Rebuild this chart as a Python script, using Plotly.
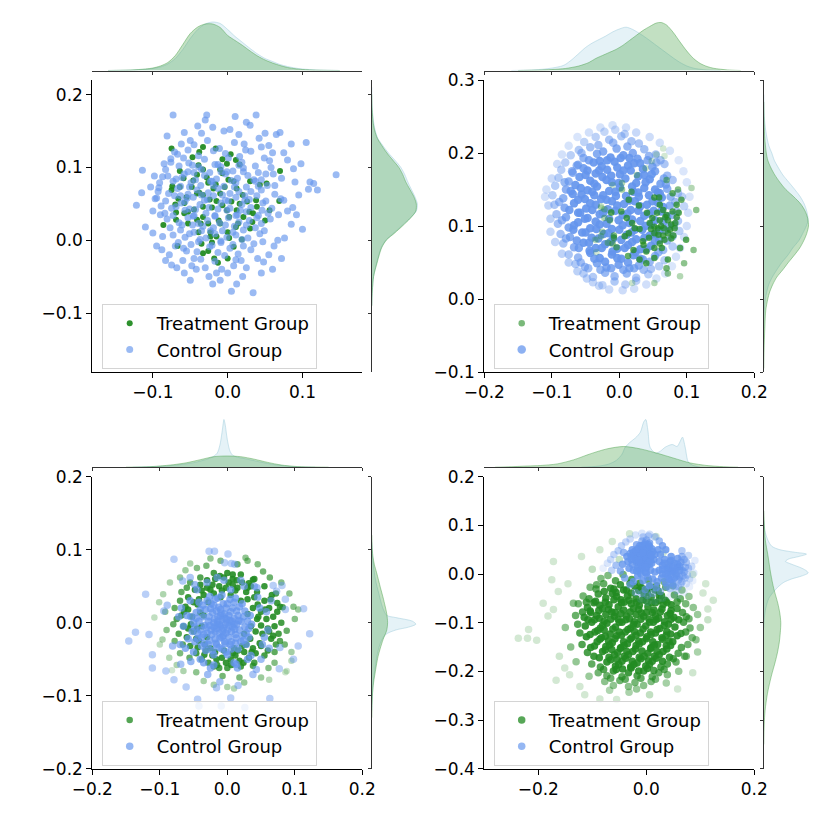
import numpy as np
import plotly.graph_objects as go

# scatter points, (x, y) in thousandths
P1_TREAT = [(-75,126),(-33,128),(-16,126),(4,118),(-47,114),(-38,121),(-7,111),(11,110),(16,104),(-1,105),
    (-39,103),(-33,97),(-10,97),(-7,92),(70,95),(-64,95),(-74,74),(-64,73),(-75,69),(-59,85),(-46,82),(-26,79),
    (-16,77),(1,83),(8,81),(30,81),(43,76),(52,78),(-38,65),(-33,62),(-55,59),(-66,57),(-70,49),(-58,51),(-24,56),
    (-15,54),(-7,48),(5,53),(16,50),(26,53),(38,55),(69,54),(39,46),(56,41),(-45,42),(-33,46),(-21,45),(-69,38),
    (-58,37),(-41,28),(-69,28),(-33,32),(-12,27),(2,32),(12,41),(21,32),(29,39),(34,37),(50,27),(33,25),(-86,21),
    (-53,23),(-36,23),(-10,23),(11,18),(30,16),(-39,11),(-23,11),(0,11),(-15,5),(-23,5),(2,3),(19,1),(-35,-5),
    (-67,-8),(-21,-3),(8,-9),(-26,-15),(-33,-18),(-18,-25),(-13,-31),(0,-25),(-41,90),(-28,86),(-19,71),(-4,73),
    (12,71),(-48,73),(-41,64),(-53,39),(-1,41),(20,62),(-10,64),(-26,23),(14,23)]

P1_CTRL = [(-122,48),(-114,96),(-110,18),(-103,73),(-95,58),(-90,35),(-88,-13),(-87,5),(-85,105),(-81,143),
    (-78,-20),(-75,-34),(-73,172),(-70,-8),(-68,-38),(-62,132),(-60,-28),(-58,-45),(-55,-15),(-50,137),(-48,-35),
    (-45,-25),(-42,-40),(-40,157),(-35,147),(-30,-38),(-28,172),(-25,-50),(-20,155),(-15,-45),(-10,-55),(-8,-40),
    (-5,150),(0,-45),(3,152),(8,-35),(12,-60),(15,145),(18,-28),(22,132),(25,-38),(30,158),(34,-72),(38,172),
    (40,-25),(42,140),(48,-30),(50,147),(55,-20),(58,100),(60,120),(62,-8),(65,145),(67,0),(70,148),(72,-25),
    (75,120),(76,3),(80,110),(85,132),(87,45),(90,80),(95,62),(98,105),(105,134),(108,70),(110,80),(115,78),
    (120,69),(145,90),(100,15),(85,22),(80,40),(75,55),(68,35),(63,75),(72,85),(88,98),(92,35),(-100,40),(-98,88),
    (-92,72),(-80,88),(-76,112),(-67,118),(-58,148),(-30,165),(10,170),(25,162),(45,128),(55,130),(-115,65),
    (-100,10),(-95,-8),(-83,-28),(-50,-55),(-20,-60),(5,-70),(20,-50),(45,-45),(60,-40),
    (-45,131),(-27,137),(-11,126),(9,134),(24,124),
    (-71,121),(-53,124),(-39,116),(-19,123),(-3,119),(16,115),(31,122),(49,113),
    (-76,107),(-59,113),(-47,103),(-31,111),(-13,104),(1,113),(19,107),(37,102),(56,109),
    (-83,97),(-65,102),(-53,94),(-39,101),(-24,93),(-9,101),(7,95),(21,99),(41,93),(51,91),
    (-87,87),(-69,84),(-58,91),(-43,83),(-31,89),(-15,84),(-3,91),(13,85),(27,89),(45,83),(61,91),
    (-91,79),(-73,81),(-63,74),(-49,79),(-36,75),(-21,81),(-5,74),(11,79),(25,73),(37,81),(53,75),
    (-93,67),(-79,64),(-67,71),(-53,63),(-41,69),(-26,65),(-13,71),(3,64),(15,67),(31,67),(45,69),(63,63),
    (-97,57),(-83,54),(-71,61),(-57,53),(-46,59),(-31,55),(-19,61),(-3,55),(11,59),(23,55),(39,61),(51,54),(71,57),
    (-89,47),(-75,44),(-62,51),(-51,43),(-37,49),(-25,45),(-9,51),(3,44),(19,49),(31,45),(47,51),(59,44),
    (-84,37),(-73,34),(-57,41),(-46,33),(-29,37),(-17,34),(-1,41),(13,35),(25,39),(41,34),(54,37),
    (-81,29),(-65,24),(-53,31),(-39,23),(-27,27),(-11,24),(1,31),(15,25),(29,27),(45,23),(57,29),
    (-77,17),(-63,14),(-47,21),(-35,13),(-19,17),(-7,13),(9,19),(21,14),(37,17),(49,13),
    (-73,7),(-57,4),(-45,11),(-29,3),(-17,9),(-1,4),(11,7),(27,3),(43,9),
    (-66,-3),(-49,-6),(-37,1),(-21,-7),(-9,-1),(7,-6),(19,1),(35,-5),(47,-2),
    (-59,-11),(-41,-16),(-24,-9),(-13,-17),(3,-11),(14,-19),(31,-13),
    (-36,-26),(-17,-29),(-4,-21),(11,-27),
    (-52,106),(-35,97),(-17,104),(-1,94),(15,103),
    (-61,86),(-45,93),(-23,81),(-9,94),(5,82),(21,94),(35,83),
    (-63,61),(-51,73),(-35,62),(-19,75),(-7,62),(9,73),(23,61),(41,74),
    (-69,46),(-54,58),(-43,42),(-27,56),(-13,43),(1,54),(17,41),(29,56),(46,41),
    (-61,21),(-45,34),(-33,19),(-17,33),(-3,21),(11,34),(25,21),(39,31),
    (-51,9),(-39,-2),(-23,13),(-9,-3),(7,11),(21,-8)]

P2_TREAT = [(52,139),(59,139),(14,136),(29,128),(41,118),(56,118),(65,122),(70,115),(79,120),(85,112),(72,108),
    (60,108),(45,104),(30,96),(19,104),(11,111),(3,120),(-12,118),(-27,125),(-22,111),(-14,108),(-25,92),(14,90),
    (23,97),(52,99),(57,97),(52,90),(65,87),(72,90),(80,87),(67,81),(8,86),(-8,87),(-17,77),(-4,71),(-34,81),
    (35,79),(21,67),(40,65),(52,70),(36,74),(72,54),(52,56),(90,70),(99,81),(85,129),(92,136),(87,150),(107,152),
    (114,122),(110,67),(96,49),(70,42),(72,35),(90,31),(52,22),(19,22),(40,49),(55,198),(65,206),(48,189),(67,196),
    (70,163),(79,145),(39,179),(26,170),(4,150),(18,147),(-27,86),(30,54),(13,59),(60,76),(82,97),(49,111),(60,129),
    (77,102),(66,97),(-27,127),(-22,123),(-12,119),(-36,81),(-34,64),(-8,84),(-10,76),(4,159),(-10,156),
    (62,100),(75,95),(68,112),(58,88),(47,96),(83,104),(77,83),(63,70),(44,84),(88,118)]

P2_CTRL = [(-22,229),(-6,232),(8,226),(-35,222),(-15,218),(3,223),(18,216),(-52,215),(-31,211),(-9,214),(12,209),
    (29,213),(-60,204),(-43,208),(-24,202),(-4,206),(20,200),(37,205),(54,198),(-72,197),(-53,193),(-33,199),
    (-13,194),(6,197),(27,192),(44,196),(61,190),
    (-80,187),(-61,184),(-45,190),(-26,182),(-7,188),(13,183),(31,186),(49,181),(67,185),
    (-86,177),(-69,173),(-53,179),(-35,172),(-18,177),(1,171),(17,176),(37,170),(53,175),(71,169),
    (-90,166),(-75,161),(-59,167),(-43,162),(-25,167),(-11,160),(9,165),(25,159),(45,164),(61,158),(79,163),
    (-95,155),(-79,150),(-65,156),(-47,149),(-33,154),(-15,148),(1,153),(21,147),(37,152),(57,146),(71,151),(87,145),
    (-99,142),(-83,138),(-69,144),(-51,137),(-37,142),(-19,136),(-5,141),(15,135),(29,140),(49,134),(63,139),(83,133),
    (93,140),(-96,129),(-81,125),(-67,131),(-49,124),(-35,129),(-17,123),(-3,128),(17,122),(31,127),(51,121),
    (65,126),(85,120),(96,127),
    (-93,116),(-79,112),(-61,118),(-47,111),(-29,116),(-15,110),(5,115),(19,109),(37,114),(53,108),(71,113),(87,107),
    (-91,103),(-75,98),(-61,105),(-43,97),(-29,102),(-11,96),(5,101),(23,95),(39,100),(59,94),(73,99),(89,93),
    (-87,89),(-73,85),(-55,91),(-41,84),(-23,89),(-9,83),(11,88),(25,82),(45,87),(59,81),(79,86),
    (-83,76),(-67,71),(-53,77),(-35,70),(-21,75),(-3,69),(13,74),(31,68),(47,73),(65,67),(79,72),
    (-75,61),(-61,57),(-43,63),(-29,56),(-11,61),(3,55),(21,60),(35,54),(53,59),(67,53),
    (-65,48),(-51,44),(-33,49),(-19,43),(-1,47),(15,42),(29,46),(47,41),(59,45),
    (-53,35),(-39,30),(-21,36),(-7,31),(11,35),(25,29),(43,34),
    (-39,23),(-25,19),(-7,24),(9,20),(25,25),
    (-56,200),(-38,187),(-18,190),(2,193),(22,186),(42,190),
    (-70,175),(-50,170),(-30,176),(-12,169),(6,176),(28,168),(48,171),(66,165),
    (-72,148),(-56,143),(-40,147),(-24,142),(-6,147),(10,141),(28,146),(44,142),(60,145),(76,140),
    (-74,122),(-58,118),(-40,122),(-24,118),(-6,121),(12,117),(28,121),(44,117),(62,120),(78,115),
    (-68,95),(-50,91),(-34,96),(-16,90),(0,95),(18,91),(34,95),(52,89),(68,94),
    (-60,70),(-44,66),(-26,70),(-10,65),(8,70),(24,64),(40,68),(58,64),
    (-46,42),(-28,40),(-12,42),(6,40),(22,42),(36,40),
    (-63,183),(-47,176),(-29,189),(-3,180),(15,193),(35,178),(55,187),(-81,160),(-57,152),(-37,158),(-19,163),
    (-1,159),(19,154),(39,160),(53,150),(69,157),(-89,133),(-61,136),(-43,131),(-27,137),(-11,134),(7,130),
    (23,134),(41,129),(57,132),(75,128),(-85,108),(-67,101),(-51,110),(-35,106),(-19,103),(-1,108),(15,104),
    (31,107),(47,102),(65,106),(81,101),(-79,83),(-63,80),(-45,77),(-31,83),(-13,78),(3,81),(19,78),(37,84),
    (53,79),(71,80),(-57,50),(-37,55),(-21,51),(-3,56),(13,50),(31,55),(45,51),
    (-108,150),(-105,128),(-102,110),(-100,165),(-92,185),(-85,198),(-75,210),(-62,222),(-45,228),(-28,235),
    (-10,238),(10,235),(25,228),(45,222),(60,214),(75,203),(88,190),(95,175),(100,160),(104,140),(102,118),
    (100,100),(96,85),(90,70),(84,58),(78,45),(68,35),(55,28),(40,20),(22,14),(5,12),(-15,13),(-30,18),(-48,28),
    (-62,38),(-75,50),(-85,62),(-95,78),(-102,92),(-110,140)]

P3_TREAT = [(-68,10),(-65,-5),(-62,22),(-60,-20),(-58,35),(-55,-32),(-52,8),(-50,-12),(-48,45),(-46,-42),(-44,25),
    (-42,-25),(-40,52),(-38,-50),(-35,38),(-32,-38),(-30,58),(-28,-55),(-25,45),(-22,-45),(-18,60),(-15,-58),
    (-12,50),(-8,-48),(-5,62),(-2,-55),(2,55),(5,-50),(8,60),(12,-45),(15,48),(18,-52),(22,55),(25,-40),(28,42),
    (32,-48),(35,50),(38,-35),(40,35),(42,-42),(45,25),(48,-28),(50,15),(52,-15),(55,30),(58,5),(60,-8),(62,20),
    (65,-22),(68,8),(70,-5),(72,-30),(74,15),(76,-15),(66,38),(60,-38),(-72,-15),(-75,5),(-70,30),(-66,-30),
    (-60,48),(-56,-48),(-20,-60),(0,-62),(20,-60),(40,-55),(55,-45),(70,-40),(78,-25),(80,0),(78,22),(72,40),
    (55,50),(40,60),(20,66),(0,68),(-20,68),(-40,62),(-55,55),(-68,42),(-78,20),(-80,-2),(-78,-25),(-70,-42),
    (-35,10),(-30,-20),(25,-15),(30,12),(-10,35),(10,-35),(20,30),(-25,-35),(35,-5),(-38,-5),(5,38),(-5,-38),
    (28,-30),(-28,28),
    (-64,15),(-58,-8),(-50,28),(-46,-22),(-38,44),(-34,-44),(-22,52),(-16,-50),(-2,48),(6,-58),(14,58),(24,-55),
    (30,48),(36,-40),(44,42),(50,-32),(56,18),(62,-12),(64,32),(68,-18),(46,8),(50,-4),(-54,-2),(-58,18),(32,54),
    (8,52),(-12,-62),(16,-38),(-44,-34),(-30,48),
    (-45,-8),(-40,14),(-33,-30),(-20,40),(8,-42),(22,-32),(38,20),(42,-12),(30,32),(-18,-40),(44,5),(-42,32),
    (12,44),(-8,44),(34,-22),
    (-55,81),(-31,78),(27,89),(53,70),(-95,39),(-101,28),(-108,7),(-96,-23),(-86,-48),(-65,-66),(-46,-68),
    (-7,-73),(18,-75),(38,-59),(61,-62),(86,-68),(88,-66),(98,22),(105,18),(88,-11),(82,21),(74,27),(63,62),
    (38,59),(-11,64),(8,66),(-85,55),(-90,-10),(-75,-58),(-20,-85),(0,-88),(25,-82),(50,-75),(70,-55),(95,-40),
    (100,5),(92,40),(80,55),(30,85),(-10,85),(-45,75),(-70,62),(-92,15),(-100,-30),(-82,-65),(-35,-80),(10,-90),
    (62,-78),(85,-30),(95,-52),(-62,72),(15,80),(-25,88),(45,80)]

P3_CTRL = [(-10,-5),(-3,-2),(-16,-8),(-8,4),(-12,-14),(0,-10),(-20,0),(-6,-18),(4,3),(-24,-10),(-14,8),(2,-20),
    (8,-6),(-28,2),(-18,-22),(-4,12),(10,6),(-30,-14),(-22,14),(6,-26),(14,-2),(-34,-4),(-10,18),(12,-16),
    (-26,-24),(-2,20),(16,10),(-36,8),(-16,-30),(18,-10),(-32,18),(4,-30),(20,2),(-40,-10),(-6,26),(22,-18),
    (-38,-20),(8,20),(-20,24),(-28,-30),(24,8),(-12,-34),(-42,2),(12,-28),(0,26),(26,-6),(-44,-14),(-24,26),
    (14,16),(-34,-28),(-8,-36),(28,-14),(-46,6),(18,22),(-36,24),(6,-36),(-30,30),(30,2),(-48,-6),(-18,32),
    (20,-26),(-40,18),(10,28),(-44,-22),(-2,-40),(32,-8),(-22,-38),(26,16),(-50,0),(-14,34),(24,-24),(-38,-32),
    (4,32),(-46,14),(16,-36),(34,10),(-26,36),(-52,-12),(32,-20),(-32,-38),(0,-44),(-8,38),(36,-2),(-42,28),
    (22,26),(-54,8),(-20,-44),(12,34),(28,-30),(-48,-26),
    (-12,-2),(-6,-8),(-14,2),(-4,6),(-18,-12),(0,0),(-10,10),(-2,-14),(-20,-6),(-8,-20),(6,-12),(-16,16),(2,10),
    (-26,-4),(-4,-26),(10,-2),
    (-7,-11),(-15,-3),(-1,5),(-19,5),(-11,-21),(3,-4),(-23,-16),(-9,13),(7,2),(-27,8),(-3,-29),(11,-9),(-17,-28),
    (-31,-7),(5,15),(-13,21),(13,-21),(-25,19),(-35,-16),(17,3),
    (-60,10),(-58,-22),(-55,30),(-50,-40),(-45,45),(-40,-50),(-30,55),(-20,-58),(-5,58),(10,-55),(25,50),
    (35,-45),(45,35),(52,-30),(58,15),(60,-10),(50,-50),(40,50),(-65,-5),(-68,20),(-62,-35),(-48,52),(-15,62),
    (20,58),(48,20),(55,-20),(30,-50),(-35,-55),(5,45),(-70,-30),(-72,8),(65,30),(62,-35),(-25,-62),(15,-62),
    (44,48),
    (-146,-25),(-136,-13),(-121,39),(-111,-62),(-111,-44),(-116,-16),(-91,-66),(-79,-78),(-79,87),(-61,-88),
    (-44,-105),(-27,98),(-19,98),(1,94),(-4,82),(6,81),(11,80),(81,51),(86,32),(113,19),(122,-15),(105,-32),
    (98,-50),(77,-63),(63,-104),(5,-103),(16,-86),(-11,-81),(-16,-89),(-29,-71),(38,-71),(43,-64),(13,-57),
    (-54,-53),(-69,-57),(-81,-32),(-94,16),(-89,24),(-66,57),(-55,62),(68,51),(73,43),(86,18),(78,-34),
    (-9,-114),(26,-116),(-42,-114)]

P4_TREAT = [(-237,-132),(-220,-132),(-218,-114),(-203,-136),(-191,-60),(-182,-86),(-172,-73),(-175,-12),
    (-172,26),(-163,-36),(-161,-169),(-167,-218),(-151,-193),(-142,-207),(-120,36),(-86,50),(-63,67),(-31,83),
    (18,77),(31,43),(86,-1),(105,-39),(124,-54),(114,-72),(114,-94),(92,-135),(74,-169),(86,-203),(58,-236),
    (37,-224),(6,-248),(-32,-243),(-68,-239),(-86,-257),(-114,-248),(-123,-231),(-106,-210),(-55,-258),
    (-18,-236),(-150,-110),(-140,-150),(-135,-60),(-145,-20),(100,-110),(95,-160),(110,-20),(60,-200),(-100,10),
    (-130,-180),(40,20),(-50,30),
    (-84,-9),(-71,-3),(-57,-14),(-43,-1),(-27,-11),(-12,-19),(4,-13),(19,-24),(33,-16),
    (-104,-27),(-93,-31),(-79,-20),(-66,-29),(-48,-22),(-37,-33),(-21,-25),(-9,-28),(7,-26),(22,-35),(36,-27),
    (49,-24),(66,-33),
    (-117,-45),(-106,-51),(-89,-41),(-75,-49),(-63,-40),(-47,-53),(-35,-45),(-19,-51),(-4,-42),(9,-47),(24,-44),
    (35,-54),(52,-43),(63,-51),(79,-46),
    (-126,-61),(-109,-69),(-97,-59),(-81,-71),(-69,-63),(-52,-67),(-41,-58),(-24,-71),(-13,-64),(3,-67),(17,-59),
    (29,-72),(46,-63),(57,-71),(73,-61),(87,-69),
    (-131,-85),(-115,-89),(-103,-79),(-87,-91),(-75,-83),(-59,-87),(-47,-81),(-31,-92),(-19,-83),(-5,-87),(11,-79),
    (23,-91),(39,-85),(51,-89),(67,-79),(79,-92),(95,-83),
    (-127,-103),(-113,-107),(-101,-99),(-85,-111),(-73,-101),(-57,-109),(-45,-99),(-29,-111),(-17,-103),(-1,-107),
    (13,-99),(25,-112),(41,-103),(53,-109),(69,-99),(81,-111),
    (-123,-121),(-111,-129),(-95,-119),(-83,-131),(-67,-123),(-55,-127),(-39,-119),(-27,-131),(-11,-121),(1,-129),
    (17,-121),(29,-131),(45,-123),(57,-127),(73,-119),(85,-131),
    (-119,-145),(-103,-151),(-91,-139),(-75,-149),(-63,-141),(-47,-151),(-35,-143),(-19,-147),(-7,-139),(9,-151),
    (21,-145),(37,-147),(49,-139),(65,-151),(77,-145),
    (-109,-161),(-97,-169),(-81,-159),(-69,-171),(-53,-161),(-41,-169),(-25,-159),(-13,-171),(3,-163),(15,-169),
    (31,-159),(43,-171),(59,-163),(71,-169),
    (-101,-185),(-85,-191),(-73,-181),(-57,-189),(-45,-179),(-29,-191),(-17,-183),(-1,-189),(11,-179),(27,-191),
    (39,-185),(55,-181),
    (-89,-203),(-73,-209),(-61,-199),(-45,-211),(-33,-203),(-17,-209),(-5,-199),(11,-211),(23,-203),(39,-207),
    (-77,-221),(-61,-229),(-49,-219),(-33,-231),(-21,-223),(-5,-229),(9,-221),
    (-78,-36),(-56,-38),(-42,-33),(-28,-39),(-14,-34),(2,-38),(16,-33),
    (-94,-56),(-76,-58),(-60,-53),(-46,-59),(-32,-54),(-18,-58),(-6,-53),(10,-59),(24,-54),(38,-58),
    (-104,-76),(-88,-75),(-70,-73),(-58,-79),(-42,-74),(-30,-78),(-14,-73),(0,-79),(14,-74),(26,-78),(46,-75),
    (-96,-94),(-78,-97),(-66,-93),(-50,-99),(-38,-94),(-22,-98),(-10,-93),(6,-99),(18,-94),(34,-98),(46,-93),
    (-90,-116),(-78,-115),(-62,-113),(-50,-119),(-34,-114),(-22,-118),(-6,-113),(8,-119),(20,-114),(38,-118),
    (-86,-134),(-70,-137),(-58,-133),(-42,-139),(-30,-134),(-14,-138),(0,-133),(12,-139),(30,-134),(42,-138),
    (-76,-156),(-64,-155),(-48,-153),(-36,-159),(-20,-154),(-8,-158),(8,-153),(20,-159),(38,-154),
    (-66,-176),(-54,-175),(-38,-173),(-26,-179),(-10,-174),(4,-178),(18,-173),(30,-179),
    (-56,-196),(-44,-195),(-28,-193),(-14,-199),(2,-194),(14,-198),
    (-92,-22),(-60,-31),(-30,-19),(0,-32),(28,-44),(-111,-58),(-86,-64),(-55,-46),(-28,-61),(0,-55),(31,-63),
    (57,-57),(-118,-78),(-92,-85),(-64,-78),(-37,-86),(-9,-80),(17,-86),(44,-81),(74,-88),(-108,-94),(-81,-105),
    (-52,-93),(-24,-104),(5,-93),(33,-106),(60,-94),(-104,-124),(-76,-128),(-46,-126),(-19,-126),(9,-124),
    (37,-126),(64,-122),(-96,-148),(-68,-146),(-41,-147),(-13,-144),(15,-146),(45,-147),(-87,-172),(-59,-166),
    (-33,-166),(-4,-169),(24,-166),(50,-174),(-79,-196),(-51,-186),(-23,-186),(6,-186),(33,-196),(-66,-214),
    (-39,-216),(-10,-214),(17,-216)]

P4_CTRL = [(-10,30),(-2,38),(-18,24),(-6,18),(-14,42),(2,28),(-22,36),(-8,50),(4,44),(-26,20),(-16,12),(0,12),
    (8,34),(-4,60),(-12,58),(6,56),(-20,48),(10,22),(-28,30),(-2,4),(-10,0),(2,-6),(-6,-14),(8,8),(12,46),
    (-30,42),(0,70),(-8,68),(6,64),(-24,8),(14,30),(-16,-4),(-34,26),(4,78),(-6,76),(10,52),(-18,60),(-12,8),
    (-4,24),(-10,36),(-2,48),(-14,18),(6,20),(-20,40),(0,36),(-8,26),(2,54),(-26,50),(16,40),(-32,12),
    (-12,46),(-4,32),(-20,30),(-8,12),(2,20),(-16,52),(6,40),(-24,44),(-2,64),(-10,22),(-6,44),(0,2),(-14,28),
    (4,60),(-28,36),(8,28),(-18,6),(-2,14),(-8,58),(10,38),
    (55,0),(48,8),(62,-6),(70,4),(40,-4),(58,14),(66,-16),(46,-12),(76,-2),(52,22),(64,24),(72,14),(38,10),
    (44,26),(30,18),(36,-18),(50,-22),(60,-26),(24,8),(28,-8),(78,12),(80,-10),(70,30),(58,32),(46,36),(34,30),
    (20,-16),(16,4),(24,26),(44,-30),(56,-34),(74,-20),(66,36),(52,-8),(62,8),(42,16),(30,0),(18,-28),(12,-40),
    (26,-36),(6,-24),(2,-44),(-2,-32),(38,-26),(48,4),
    (52,6),(60,-12),(44,4),(68,-4),(58,20),(48,-18),(72,-8),(40,12),(62,16),(54,-26),(36,0),(66,8),(30,10),
    (46,28),(74,24),(56,-4),(42,-10),(64,-20),(34,22),(50,14),
    (-80,12),(-72,22),(-66,30),(-60,40),(-52,48),(-46,58),(-38,66),(-30,72),(-20,80),(-8,84),(6,82),(16,76),
    (24,68),(30,58),(36,50),(22,50),(26,40),(84,16),(88,2),(86,-14),(80,-26),(70,-38),(58,-44),(44,-46),(30,-50),
    (16,-56),(2,-58),(-10,-52),(-20,-38),(-30,-22),(-40,-8),(-48,6),(-56,18),(-64,8),(-44,20),(-36,36),(-42,44),
    (90,28),(78,38),(66,48),(12,-10),(-8,-40),(-24,-16)]

# marginal density curves: (position in thousandths, density height)
P1_TOP_T = [(-160,0),(-130,0.5),(-110,1.5),(-100,2.5),(-90,4.5),(-80,8),(-70,15),(-60,26),(-50,37),(-40,43.5),
    (-30,46.5),(-20,46.5),(-10,43),(0,35),(10,30),(20,25),(30,19.5),(40,14.5),(50,10.5),(60,7.5),(70,5),(80,3),
    (90,1.8),(100,1),(120,0.3),(150,0)]
P1_TOP_C = [(-160,0),(-130,0.4),(-110,1.2),(-100,2),(-90,3.5),(-80,6.5),(-70,12),(-60,21),(-50,32),(-40,41),
    (-30,46.5),(-20,48.5),(-10,47),(0,41),(10,34),(20,28),(30,22),(40,16.5),(50,12),(60,9),(70,6),(80,4),
    (90,2.5),(100,1.5),(120,0.5),(150,0)]
P1_RIGHT_T = [(200,0),(180,0.3),(160,1.5),(150,3),(140,5.5),(130,10),(120,15),(110,21),(100,27),(90,31),(80,34),
    (70,38),(60,42),(50,44.5),(40,44),(30,38.5),(20,31),(10,23),(0,14.5),(-10,10),(-20,7.5),(-30,5.5),(-40,3.5),
    (-50,1.8),(-70,0.5),(-90,0)]
P1_RIGHT_C = [(210,0),(185,0.3),(165,1.5),(150,3.5),(140,6),(130,11),(120,16.5),(110,23),(100,29),(90,33),
    (80,36),(70,39.5),(60,43),(50,45.5),(40,44.5),(30,38),(20,30),(10,22),(0,14),(-10,9.5),(-20,7),(-30,5),
    (-40,3.2),(-50,1.7),(-70,0.5),(-90,0)]

P2_TOP_T = [(-150,0),(-120,0.4),(-100,1),(-80,2),(-60,4.5),(-45,8),(-35,12),(-25,15),(-15,18),(-5,21),(5,25),
    (15,30),(25,35),(35,40),(45,44),(55,47.5),(62,48),(70,45.5),(80,38),(90,28.5),(100,19.5),(110,12),(120,7),
    (130,4),(140,2.2),(160,0.6),(180,0)]
P2_TOP_C = [(-160,0),(-130,0.5),(-110,1.5),(-95,3),(-85,4.5),(-80,6),(-70,11),(-60,17),(-50,23),(-40,27.5),
    (-30,31),(-20,34.5),(-10,38.5),(0,41.5),(10,43.3),(20,41),(30,37),(40,32.5),(50,27.5),(60,22.5),(70,17.5),
    (80,12.5),(90,8),(100,4.5),(110,2.3),(125,0.8),(150,0)]
P2_RIGHT_T = [(270,0),(240,0.4),(220,1),(200,2.5),(190,4),(180,7),(170,11),(160,16),(150,22),(140,30),(130,37),
    (120,41.5),(110,44),(100,44.7),(90,43),(80,40),(70,36),(60,30.5),(50,24.5),(40,19),(30,13),(20,9),(10,6),
    (0,4),(-15,2),(-40,1),(-70,0.3),(-95,0)]
P2_RIGHT_C = [(280,0),(250,0.5),(230,2),(210,5),(200,8),(190,10.5),(180,14.5),(170,19),(160,25),(150,31),
    (140,36.5),(130,40.5),(120,43),(108,44.3),(100,42.5),(90,39),(80,35),(70,29),(60,24),(50,18),(40,13),(30,8.5),
    (20,5),(10,3),(0,1.5),(-20,0.3),(-40,0)]

P3_TOP_T = [(-150,0),(-115,0.5),(-100,1.2),(-80,2.5),(-60,4.5),(-40,7.5),(-20,10.5),(0,11.2),(20,10.5),(40,8),
    (60,4.8),(80,2.2),(100,0.8),(120,0.3),(150,0)]
P3_TOP_C = [(-140,0),(-110,0.6),(-90,1.2),(-70,2.5),(-50,4.5),(-30,8),(-20,11),(-15,14),(-11,22),(-8,34),(-6,44),
    (-5,47.7),(-3,42),(-1,32),(1,24),(4,16),(8,12),(15,10),(30,8),(50,5),(70,2.5),(100,0.5),(130,0)]
P3_RIGHT_T = [(120,0),(100,0.5),(90,1.2),(80,2.5),(69,4.7),(58,6.8),(46,9),(35,11.2),(23,13.3),(12,15),(0,15.8),
    (-10,15),(-23,11.3),(-35,8.5),(-46,6.3),(-58,4.6),(-69,3.3),(-80,2),(-92,1),(-110,0.3),(-130,0)]
P3_RIGHT_C = [(110,0),(90,0.8),(60,3.5),(40,7),(20,11),(10,15),(7,24),(2,40.7),(-2,44),(-6,37),(-10,24),(-16,14),
    (-25,9.5),(-40,6),(-60,3.5),(-80,1.5),(-100,0.5),(-120,0)]

P4_TOP_T = [(-280,0),(-250,0.5),(-220,1.2),(-196,1.7),(-165,3.3),(-135,7.3),(-104,13.3),(-73,18.3),(-42,20.7),
    (-11,18.3),(20,14),(51,9),(81,4.3),(112,1.7),(143,0.5),(170,0)]
P4_TOP_C = [(-120,0),(-90,1),(-70,3),(-55,7),(-45,13),(-39,20),(-30,25),(-20,29.3),(-11,35),(-5,45),(-1,47.7),
    (3,36.7),(7,20),(17,14),(26,16),(35,20),(48,22.7),(57,20.7),(62,25),(67,30),(72,20),(78,5),(88,1.5),(100,0)]
P4_RIGHT_T = [(130,0),(100,0.6),(70,1.5),(40,4),(0,7),(-30,10),(-60,14),(-80,16),(-100,17),(-120,16.5),
    (-140,15.5),(-160,13.8),(-180,11.5),(-210,7.5),(-245,3.7),(-280,1.3),(-310,0.4),(-350,0)]
P4_RIGHT_C = [(110,0),(90,1),(70,4),(57,8),(50,16),(45,30),(41,42.7),(36,35),(31,25),(26,21.7),(20,28),(12,38),
    (6,43),(2,44.3),(-4,38),(-10,28),(-17,20),(-25,15),(-36,10),(-50,5),(-70,2),(-90,0.5),(-110,0)]

W, H = 830, 835
GREEN = "#228B22"
BLUE = "#6495ED"
FONT = "DejaVu Sans"


def pts(lst):
    a = np.array(lst, dtype=float)
    return a[:, 0] / 1000.0, a[:, 1] / 1000.0


def curve(lst):
    a = np.array(lst, dtype=float)
    return a[:, 0] / 1000.0, a[:, 1]


def fade(x, y, hi, lo, start=1.35):
    # points far from the centre of their group are drawn fainter
    d = np.hypot((x - np.median(x)) / x.std(), (y - np.median(y)) / y.std())
    t = np.clip((d - start) / 0.9, 0, 1)
    return hi + (lo - hi) * t


panels = [
    dict(treat=P1_TREAT, ctrl=P1_CTRL, kde_top=(P1_TOP_T, P1_TOP_C), kde_right=(P1_RIGHT_T, P1_RIGHT_C),
         xr=[-0.181, 0.180], yr=[-0.181, 0.220], xt=[-0.1, 0, 0.1], yt=[-0.1, 0, 0.1, 0.2],
         px_l=92.3, px_t=80, a_t=(0.95, 0.95), a_c=(0.65, 0.65), s_t=6, s_c=7, treat_on_top=False),
    dict(treat=P2_TREAT, ctrl=P2_CTRL, kde_top=(P2_TOP_T, P2_TOP_C), kde_right=(P2_RIGHT_T, P2_RIGHT_C),
         xr=[-0.2, 0.2], yr=[-0.1, 0.3], xt=[-0.2, -0.1, 0, 0.1, 0.2], yt=[-0.1, 0, 0.1, 0.2, 0.3],
         px_l=484.3, px_t=80, a_t=(0.75, 0.2), a_c=(0.92, 0.15, 1.3), s_t=6.5, s_c=8.5, treat_on_top=True),
    dict(treat=P3_TREAT, ctrl=P3_CTRL, kde_top=(P3_TOP_T, P3_TOP_C), kde_right=(P3_RIGHT_T, P3_RIGHT_C),
         xr=[-0.2, 0.2], yr=[-0.2, 0.2], xt=[-0.2, -0.1, 0, 0.1, 0.2], yt=[-0.2, -0.1, 0, 0.1, 0.2],
         px_l=92.3, px_t=476.7, a_t=(0.9, 0.2), a_c=(0.75, 0.45), s_t=6.5, s_c=7.5, treat_on_top=False),
    dict(treat=P4_TREAT, ctrl=P4_CTRL, kde_top=(P4_TOP_T, P4_TOP_C), kde_right=(P4_RIGHT_T, P4_RIGHT_C),
         xr=[-0.3, 0.2], yr=[-0.4, 0.2], xt=[-0.2, 0, 0.2], yt=[-0.4, -0.3, -0.2, -0.1, 0, 0.1, 0.2],
         px_l=484.3, px_t=476.7, a_t=(0.9, 0.2), a_c=(0.85, 0.15), s_t=7.5, s_c=7.5, treat_on_top=False),
]

PW, PH = 270, 292      # scatter box size in px
MARG = 50              # marginal strip thickness in px
GAP = 9.5              # gap between scatter box and marginal strip

fill_t = dict(fillcolor="rgba(70,160,70,0.33)", line=dict(color="rgba(70,160,70,0.45)", width=1))
fill_c = dict(fillcolor="rgba(173,216,230,0.32)", line=dict(color="rgba(160,205,222,0.5)", width=1))

fig = go.Figure()
layout = dict(width=W, height=H, margin=dict(l=0, r=0, t=0, b=0),
              paper_bgcolor="white", plot_bgcolor="white",
              font=dict(family=FONT, size=17, color="black"))


def px_x(v):
    return v / W


def px_y(v):
    return 1 - v / H


def ax(k):
    return "" if k == 1 else str(k)


for i, p in enumerate(panels):
    n = 3 * i + 1
    L, T = p["px_l"], p["px_t"]
    R, B = L + PW, T + PH
    xdom = [px_x(L), px_x(R)]
    ydom = [px_y(B), px_y(T)]
    topdom = [px_y(T - GAP), px_y(T - GAP - MARG)]
    rightdom = [px_x(R + GAP), px_x(R + GAP + MARG)]
    leg = "legend" if i == 0 else f"legend{i + 1}"

    # marginal densities: control first, treatment drawn over it
    for c, sty in zip(p["kde_top"][::-1], (fill_c, fill_t)):
        cx, ch = curve(c)
        fig.add_trace(go.Scatter(x=cx, y=ch, mode="lines", fill="tozeroy",
                                 showlegend=False, hoverinfo="skip",
                                 xaxis="x" + ax(n + 1), yaxis="y" + ax(n + 1),
                                 fillcolor=sty["fillcolor"],
                                 line=dict(sty["line"], shape="spline", smoothing=0.8)))
    for c, sty in zip(p["kde_right"][::-1], (fill_c, fill_t)):
        cy, cw = curve(c)
        fig.add_trace(go.Scatter(x=cw, y=cy, mode="lines", fill="tozerox",
                                 showlegend=False, hoverinfo="skip",
                                 xaxis="x" + ax(n + 2), yaxis="y" + ax(n + 2),
                                 fillcolor=sty["fillcolor"],
                                 line=dict(sty["line"], shape="spline", smoothing=0.8)))

    tx, ty = pts(p["treat"])
    cx_, cy_ = pts(p["ctrl"])
    t_trace = go.Scatter(x=tx, y=ty, mode="markers", name="Treatment Group", legend=leg, legendrank=1,
                         marker=dict(color=GREEN, size=p["s_t"], opacity=fade(tx, ty, *p["a_t"]),
                                     line=dict(width=0)),
                         xaxis="x" + ax(n), yaxis="y" + ax(n))
    c_trace = go.Scatter(x=cx_, y=cy_, mode="markers", name="Control Group", legend=leg, legendrank=2,
                         marker=dict(color=BLUE, size=p["s_c"], opacity=fade(cx_, cy_, *p["a_c"]),
                                     line=dict(width=0)),
                         xaxis="x" + ax(n), yaxis="y" + ax(n))
    for tr in ((c_trace, t_trace) if p["treat_on_top"] else (t_trace, c_trace)):
        fig.add_trace(tr)

    common = dict(showgrid=False, zeroline=False, showline=True, linecolor="black", linewidth=1,
                  ticks="outside", ticklen=5, tickwidth=1, tickcolor="black", automargin=False)
    layout["xaxis" + ax(n)] = dict(common, domain=xdom, range=p["xr"], anchor="y" + ax(n),
                                   tickvals=p["xt"], tickformat=".1f", tickfont=dict(size=17))
    layout["yaxis" + ax(n)] = dict(common, domain=ydom, range=p["yr"], anchor="x" + ax(n),
                                   tickvals=p["yt"], tickformat=".1f", tickfont=dict(size=17))
    marg = dict(showgrid=False, zeroline=False, showline=True, linecolor="#333333", linewidth=1,
                ticks="outside", ticklen=3, tickcolor="#333333", showticklabels=False, automargin=False)
    layout["xaxis" + ax(n + 1)] = dict(marg, domain=xdom, range=p["xr"], anchor="y" + ax(n + 1),
                                       tickvals=p["xt"])
    layout["yaxis" + ax(n + 1)] = dict(domain=topdom, range=[0, MARG], anchor="x" + ax(n + 1),
                                       visible=False, automargin=False)
    layout["xaxis" + ax(n + 2)] = dict(domain=rightdom, range=[0, MARG], anchor="y" + ax(n + 2),
                                       visible=False, automargin=False)
    layout["yaxis" + ax(n + 2)] = dict(marg, domain=ydom, range=p["yr"], anchor="x" + ax(n + 2),
                                       tickvals=p["yt"])

    layout[leg] = dict(x=px_x(L + 9.4), y=px_y(T + 224), xanchor="left", yanchor="top",
                       bgcolor="rgba(255,255,255,0.8)", bordercolor="#d4d4d4", borderwidth=1,
                       font=dict(family=FONT, size=18, color="black"), itemwidth=44,
                       traceorder="normal")

fig.update_layout(**layout)
# the page's default body margin would shift the whole figure; drop it
fig.write_html("out.html", config={"displayModeBar": False},
               post_script="document.body.style.margin='0px';")
